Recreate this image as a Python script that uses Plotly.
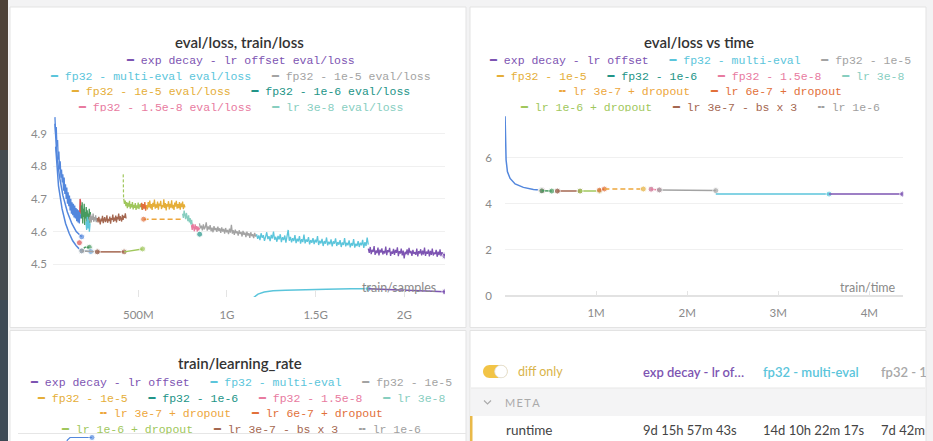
import numpy as np
import plotly.graph_objects as go

W, H = 933, 441


def PX(x):
    return x / W


def PY(y):
    return 1 - y / H


# ---------------- runs (legend order) ----------------
run_names = ["exp decay - lr offset", "fp32 - multi-eval", "fp32 - 1e-5", "fp32 - 1e-5",
             "fp32 - 1e-6", "fp32 - 1.5e-8", "lr 3e-8", "lr 3e-7 + dropout",
             "lr 6e-7 + dropout", "lr 1e-6 + dropout", "lr 3e-7 - bs x 3", "lr 1e-6"]
run_colors = ["#7D54B2", "#5BC5DB", "#A3A3A3", "#E5AE38", "#229487", "#E87B9F",
              "#87CEBF", "#EDA63C", "#E2703A", "#A0C75C", "#A46750", "#A0A0A0"]
run_dashed = [False, False, False, False, False, False, False, True, False, False, False, True]
PURPLE, CYAN, GRAY, YELLOW, TEAL, PINK, MINT, DYELLOW, ORANGE, LGREEN, BROWN, LGRAY = run_colors
BLUE, RED, GREEN = "#5387DD", "#DA4C4C", "#479A5F"

legend_rows_loss = [[0], [1, 2], [3, 4], [5, 6]]
legend_rows_runs = [[0, 1, 2], [3, 4, 5, 6], [7, 8], [9, 10, 11]]

# ---------------- panel 1: eval/loss, train/loss vs train/samples ----------------
samples_ticks = [5e8, 1e9, 1.5e9, 2e9]
samples_tick_labels = ["500M", "1G", "1.5G", "2G"]
loss_ticks = [4.5, 4.6, 4.7, 4.8, 4.9]

blue_train_span = [0.030e9, 0.175e9]
blue_train_loss = [4.95, 4.90, 4.92, 4.86, 4.88, 4.82, 4.845, 4.79, 4.815, 4.765,
                   4.79, 4.75, 4.775, 4.725, 4.765, 4.715, 4.745, 4.70, 4.735, 4.685,
                   4.72, 4.678, 4.71, 4.665, 4.70, 4.655, 4.69, 4.65, 4.685, 4.643,
                   4.68, 4.64, 4.672, 4.632, 4.668, 4.628, 4.665, 4.625, 4.66, 4.64]
red_train_span = [0.170e9, 0.178e9]
red_train_loss = [4.66, 4.70, 4.67, 4.69, 4.655, 4.68]
green_train_span = [0.178e9, 0.232e9]
green_train_loss = [4.68, 4.64, 4.69, 4.625, 4.67, 4.645, 4.685, 4.62, 4.66, 4.64,
                    4.675, 4.63, 4.665, 4.615, 4.655, 4.64, 4.67, 4.625, 4.66, 4.635]
cyan_early_span = [0.205e9, 0.228e9]
cyan_early_loss = [4.63, 4.605, 4.645, 4.61, 4.635, 4.6, 4.625]
gray_early_span = [0.224e9, 0.270e9]
gray_early_loss = [4.645, 4.632, 4.652, 4.628, 4.647, 4.636, 4.655, 4.63, 4.644, 4.634,
                   4.65, 4.629, 4.642, 4.637]
brown_train_span = [0.269e9, 0.431e9]
brown_train_loss = [4.641, 4.628, 4.645, 4.633, 4.622, 4.640, 4.631, 4.648, 4.626, 4.637,
                    4.644, 4.629, 4.635, 4.650, 4.627, 4.639, 4.632, 4.646, 4.624, 4.641,
                    4.636, 4.652, 4.630, 4.643, 4.634, 4.649, 4.628, 4.645, 4.638, 4.655,
                    4.633, 4.647, 4.639, 4.631, 4.651, 4.636, 4.648, 4.642, 4.656, 4.640]
lgreen_spike_x = [0.415e9, 0.417e9]
lgreen_spike_loss = [4.775, 4.700]
lgreen_train_span = [0.418e9, 0.528e9]
lgreen_train_loss = [4.70, 4.685, 4.695, 4.678, 4.69, 4.672, 4.688, 4.676, 4.694, 4.67,
                     4.684, 4.674, 4.69, 4.668, 4.682, 4.673, 4.687, 4.666, 4.68, 4.671,
                     4.689, 4.669, 4.683, 4.675, 4.686, 4.667, 4.681, 4.674]
orange_train_span = [0.515e9, 0.550e9]
orange_train_loss = [4.675, 4.688, 4.666, 4.684, 4.67, 4.69, 4.664, 4.68, 4.672]
yellow_train_span = [0.547e9, 0.763e9]
yellow_train_loss = [4.682, 4.668, 4.69, 4.674, 4.695, 4.671, 4.684, 4.666, 4.688, 4.676,
                     4.698, 4.67, 4.683, 4.673, 4.692, 4.667, 4.686, 4.678, 4.694, 4.669,
                     4.681, 4.674, 4.699, 4.672, 4.687, 4.665, 4.684, 4.677, 4.693, 4.668,
                     4.685, 4.673, 4.696, 4.671, 4.682, 4.666, 4.689, 4.676, 4.694, 4.67,
                     4.684, 4.672, 4.69, 4.667, 4.686, 4.675, 4.692, 4.669, 4.683, 4.674]
mint_train_span = [0.750e9, 0.805e9]
mint_train_loss = [4.655, 4.642, 4.664, 4.648, 4.638, 4.657, 4.641, 4.632, 4.65, 4.628,
                   4.641, 4.622, 4.636, 4.618]
pink_train_span = [0.800e9, 0.845e9]
pink_train_loss = [4.62, 4.605, 4.624, 4.61, 4.601, 4.622, 4.607, 4.617, 4.6, 4.615,
                   4.604, 4.612]
gray_train_span = [0.845e9, 1.167e9]
gray_train_loss = [4.625, 4.61, 4.618, 4.604, 4.622, 4.607, 4.614, 4.628, 4.603, 4.616,
                   4.606, 4.62, 4.601, 4.612, 4.598, 4.617, 4.604, 4.611, 4.599, 4.615,
                   4.602, 4.61, 4.596, 4.613, 4.6, 4.608, 4.594, 4.611, 4.598, 4.605,
                   4.592, 4.609, 4.597, 4.621, 4.594, 4.604, 4.59, 4.606, 4.595, 4.601,
                   4.588, 4.604, 4.593, 4.599, 4.585, 4.602, 4.59, 4.597, 4.583, 4.6,
                   4.588, 4.595, 4.581, 4.598, 4.586, 4.592, 4.58, 4.596, 4.585, 4.59]
cyan_train_span = [1.167e9, 1.797e9]
cyan_train_loss = [4.592, 4.578, 4.588, 4.574, 4.595, 4.581, 4.589, 4.572, 4.584, 4.598,
                   4.577, 4.586, 4.571, 4.59, 4.579, 4.6, 4.575, 4.584, 4.569, 4.587,
                   4.576, 4.592, 4.568, 4.583, 4.574, 4.588, 4.566, 4.581, 4.605, 4.572,
                   4.584, 4.567, 4.58, 4.571, 4.589, 4.565, 4.578, 4.57, 4.586, 4.563,
                   4.577, 4.568, 4.591, 4.564, 4.576, 4.569, 4.583, 4.561, 4.574, 4.566,
                   4.58, 4.562, 4.575, 4.567, 4.586, 4.559, 4.572, 4.564, 4.578, 4.556,
                   4.571, 4.563, 4.582, 4.558, 4.569, 4.561, 4.576, 4.555, 4.57, 4.563,
                   4.579, 4.556, 4.568, 4.56, 4.574, 4.553, 4.567, 4.559, 4.58, 4.555,
                   4.566, 4.558, 4.573, 4.552, 4.565, 4.557, 4.577, 4.551, 4.563, 4.556,
                   4.571, 4.553, 4.566, 4.558, 4.575, 4.55, 4.568, 4.556, 4.582, 4.56]
purple_train_span = [1.797e9, 2.229e9]
purple_train_loss = [4.548, 4.535, 4.553, 4.531, 4.544, 4.538, 4.556, 4.529, 4.542, 4.534,
                     4.551, 4.527, 4.545, 4.536, 4.549, 4.53, 4.541, 4.533, 4.554, 4.528,
                     4.543, 4.537, 4.55, 4.526, 4.539, 4.532, 4.547, 4.529, 4.544, 4.535,
                     4.552, 4.525, 4.54, 4.533, 4.548, 4.527, 4.542, 4.518, 4.538, 4.531,
                     4.546, 4.528, 4.55, 4.534, 4.541, 4.526, 4.544, 4.532, 4.537, 4.529,
                     4.548, 4.524, 4.54, 4.533, 4.546, 4.527, 4.542, 4.53, 4.551, 4.526,
                     4.539, 4.532, 4.545, 4.524, 4.541, 4.529, 4.548, 4.527, 4.536, 4.531,
                     4.544, 4.523, 4.539, 4.528, 4.546, 4.525, 4.537, 4.53, 4.533, 4.525]

# eval/loss points (train/samples, loss)
blue_eval_a_x = [0.030e9, 0.040e9, 0.055e9, 0.075e9, 0.100e9, 0.125e9, 0.150e9, 0.170e9, 0.181e9]
blue_eval_a_y = [4.93, 4.84, 4.77, 4.71, 4.66, 4.625, 4.60, 4.588, 4.584]
blue_eval_b_x = [0.034e9, 0.050e9, 0.070e9, 0.090e9, 0.110e9, 0.130e9, 0.150e9, 0.165e9, 0.181e9]
blue_eval_b_y = [4.86, 4.74, 4.67, 4.625, 4.595, 4.572, 4.557, 4.548, 4.542]
red_eval_x = [0.168e9]
red_eval_y = [4.566]
green_eval_x = [0.181e9, 0.200e9, 0.224e9]
green_eval_y = [4.543, 4.552, 4.552]
cyan_eval_early_x = [0.181e9, 0.232e9]
cyan_eval_early_y = [4.541, 4.539]
gray_eval_x = [0.181e9, 0.269e9]
gray_eval_y = [4.541, 4.538]
brown_eval_x = [0.269e9, 0.420e9]
brown_eval_y = [4.538, 4.538]
lgreen_eval_x = [0.420e9, 0.524e9]
lgreen_eval_y = [4.538, 4.547]
orange_eval_x = [0.530e9]
orange_eval_y = [4.638]
dropout_eval_x = [0.530e9, 0.745e9]
dropout_eval_y = [4.638, 4.638]
teal_eval_x = [0.846e9]
teal_eval_y = [4.592]
cyan_eval_x = [1.150e9, 1.175e9, 1.210e9, 1.260e9, 1.330e9, 1.430e9, 1.560e9, 1.700e9, 1.797e9]
cyan_eval_y = [4.398, 4.409, 4.415, 4.419, 4.421, 4.423, 4.424, 4.425, 4.425]
purple_eval_x = [1.797e9, 2.229e9]
purple_eval_y = [4.425, 4.416]

# ---------------- panel 2: eval/loss vs train/time ----------------
time_ticks = [1e6, 2e6, 3e6, 4e6]
time_tick_labels = ["1M", "2M", "3M", "4M"]
loss2_ticks = [0, 2, 4, 6]
blue_time = [0.001e6, 0.008e6, 0.012e6, 0.027e6, 0.056e6, 0.111e6, 0.202e6, 0.312e6, 0.404e6]
blue_time_loss = [7.80, 6.63, 5.90, 5.39, 5.10, 4.86, 4.71, 4.62, 4.58]
cluster_time = [0.395e6, 0.404e6, 0.412e6]
cluster_loss = [4.56, 4.57, 4.56]
green_time, green_time_loss = [0.404e6, 0.513e6], [4.56, 4.55]
gray_pt_time, gray_pt_loss = [0.575e6], [4.55]
brown_time, brown_time_loss = [0.575e6, 0.824e6], [4.55, 4.55]
lgreen_time, lgreen_time_loss = [0.824e6, 1.037e6], [4.55, 4.55]
orange_time, orange_time_loss = [1.037e6, 1.091e6], [4.59, 4.64]
dropout_time, dropout_time_loss = [1.091e6, 1.519e6], [4.64, 4.64]
yellow_time, yellow_time_loss = [1.519e6], [4.64]
mint_time, mint_time_loss = [1.604e6], [4.64]
pink_time, pink_time_loss = [1.604e6, 1.695e6], [4.63, 4.60]
gray_time, gray_time_loss = [1.695e6, 2.314e6], [4.60, 4.57]
cyan_time, cyan_time_loss = [2.314e6, 3.558e6], [4.42, 4.42]
purple_time, purple_time_loss = [3.558e6, 4.366e6], [4.42, 4.42]

# ---------------- panel 3: train/learning_rate ----------------
lr_x = [0.094e9, 0.100e9, 0.115e9, 0.239e9]
lr_y = [2.9e-6, 3.6e-6, 4.15e-6, 4.15e-6]

# ---------------- panel 4: run comparer ----------------
table_columns = ["exp decay - lr of…", "fp32 - multi-eval", "fp32 - 1e-5"]
table_column_colors = [PURPLE, CYAN, "#A8A8A8"]
runtime_values = ["9d 15h 57m 43s", "14d 10h 22m 17s", "7d 42m 51s"]

# ======================================================================
SANS = "Lato, 'Open Sans', sans-serif"
MONO = "'Liberation Mono', 'DejaVu Sans Mono', monospace"
TICK_FONT = dict(family=SANS, size=11.5, color="#8a8a8a")

fig = go.Figure()


def add_train(span, vals, color, ax="x", ay="y"):
    xs = np.linspace(span[0], span[1], len(vals))
    fig.add_trace(go.Scatter(x=xs, y=vals, mode="lines", xaxis=ax, yaxis=ay,
                             line=dict(color=color, width=1.3), hoverinfo="skip",
                             showlegend=False))


def add_eval(xs, ys, color, ax="x", ay="y", dash=None, markers="all", width=1.5):
    n = len(xs)
    if markers == "all":
        sizes = [6] * n
    elif markers == "last":
        sizes = [0] * (n - 1) + [6]
    else:
        sizes = [0] * n
    fig.add_trace(go.Scatter(x=xs, y=ys, mode="lines+markers", xaxis=ax, yaxis=ay,
                             line=dict(color=color, width=width, dash=dash),
                             marker=dict(color=color, size=sizes),
                             hoverinfo="skip", showlegend=False))


# panel 1 traces
add_eval(blue_eval_a_x, blue_eval_a_y, BLUE, markers="last")
add_eval(blue_eval_b_x, blue_eval_b_y, BLUE, markers="none")
add_train(blue_train_span, blue_train_loss, BLUE)
add_train(red_train_span, red_train_loss, RED)
add_train(green_train_span, green_train_loss, GREEN)
add_train(cyan_early_span, cyan_early_loss, CYAN)
add_train(gray_early_span, gray_early_loss, GRAY)
add_train(brown_train_span, brown_train_loss, BROWN)
fig.add_trace(go.Scatter(x=lgreen_spike_x, y=lgreen_spike_loss, mode="lines",
                         line=dict(color=LGREEN, width=1.2, dash="3px,2px"),
                         hoverinfo="skip", showlegend=False))
add_train(lgreen_train_span, lgreen_train_loss, LGREEN)
add_train(orange_train_span, orange_train_loss, ORANGE)
add_train(yellow_train_span, yellow_train_loss, YELLOW)
add_train(mint_train_span, mint_train_loss, MINT)
add_train(pink_train_span, pink_train_loss, PINK)
add_train(gray_train_span, gray_train_loss, GRAY)
add_train(cyan_train_span, cyan_train_loss, CYAN)
add_train(purple_train_span, purple_train_loss, PURPLE)
add_eval([purple_train_span[1]], [purple_train_loss[-1]], PURPLE)
add_eval(red_eval_x, red_eval_y, RED)
add_eval(green_eval_x, green_eval_y, GREEN, markers="last")
add_eval(cyan_eval_early_x, cyan_eval_early_y, "#6FA8DC")
add_eval(gray_eval_x, gray_eval_y, GRAY)
add_eval(brown_eval_x, brown_eval_y, BROWN)
add_eval(lgreen_eval_x, lgreen_eval_y, LGREEN, markers="last")
add_eval(dropout_eval_x, dropout_eval_y, DYELLOW, dash="5px,3px", markers="none")
add_eval(orange_eval_x, orange_eval_y, ORANGE)
add_eval(teal_eval_x, teal_eval_y, TEAL)
add_eval(cyan_eval_x, cyan_eval_y, CYAN, markers="last")
add_eval(purple_eval_x, purple_eval_y, PURPLE, markers="last")

# panel 2 traces
add_eval(blue_time, blue_time_loss, BLUE, "x2", "y2", markers="last")
add_eval(cluster_time, cluster_loss, PINK, "x2", "y2", width=0)
add_eval(green_time, green_time_loss, GREEN, "x2", "y2")
add_eval(gray_pt_time, gray_pt_loss, GRAY, "x2", "y2")
add_eval(brown_time, brown_time_loss, BROWN, "x2", "y2")
add_eval(lgreen_time, lgreen_time_loss, LGREEN, "x2", "y2")
add_eval(orange_time, orange_time_loss, ORANGE, "x2", "y2")
add_eval(dropout_time, dropout_time_loss, DYELLOW, "x2", "y2", dash="5px,3px", markers="none")
add_eval(yellow_time, yellow_time_loss, YELLOW, "x2", "y2")
add_eval(mint_time, mint_time_loss, MINT, "x2", "y2")
add_eval(pink_time, pink_time_loss, PINK, "x2", "y2")
add_eval(gray_time, gray_time_loss, GRAY, "x2", "y2")
add_eval(cyan_time, cyan_time_loss, CYAN, "x2", "y2", markers="last")
add_eval(purple_time, purple_time_loss, PURPLE, "x2", "y2", markers="last")

# panel 3 trace
add_eval(lr_x, lr_y, BLUE, "x3", "y3", markers="last", width=1.2)

# ---------------- axes ----------------
x1_range = [(53 - 49.63) / 177.33 * 1e9, (445 - 49.63) / 177.33 * 1e9]
fig.update_layout(
    xaxis=dict(domain=[PX(53), PX(445)], range=x1_range, anchor="y", automargin=False,
               tickvals=samples_ticks, ticktext=samples_tick_labels,
               showgrid=False, zeroline=False, showline=False,
               ticks="inside", ticklen=7, tickcolor="#e4e4e4", tickwidth=1,
               ticklabelstandoff=9, tickfont=TICK_FONT, fixedrange=True),
    yaxis=dict(domain=[PY(297), PY(113)], range=[4.40, 4.9627], anchor="x", automargin=False,
               tickvals=loss_ticks, ticktext=[f"{v:.1f}" for v in loss_ticks],
               showgrid=True, gridcolor="#f0f0f0", gridwidth=1, zeroline=False,
               showline=False, ticks="", ticklabelstandoff=5, tickfont=TICK_FONT,
               fixedrange=True),
    xaxis2=dict(domain=[PX(505), PX(903.3)], range=[0, 4.373e6], anchor="y2", automargin=False,
                tickvals=time_ticks, ticktext=time_tick_labels,
                showgrid=False, zeroline=False, showline=False,
                ticks="inside", ticklen=5, tickcolor="#e4e4e4",
                ticklabelstandoff=9, tickfont=TICK_FONT, fixedrange=True),
    yaxis2=dict(domain=[PY(295.7), PY(115)], range=[0, 7.857], anchor="x2", automargin=False,
                tickvals=loss2_ticks, showgrid=True, gridcolor="#f0f0f0",
                zeroline=True, zerolinecolor="#e2e2e2", zerolinewidth=1.5,
                showline=False, ticks="", ticklabelstandoff=12, tickfont=TICK_FONT,
                fixedrange=True),
    xaxis3=dict(domain=[PX(53), PX(445)], range=x1_range, anchor="y3", visible=False,
                automargin=False, fixedrange=True),
    yaxis3=dict(domain=[0, PY(433.5)], range=[3.4e-6, 5e-6], anchor="x3", visible=False,
                automargin=False, fixedrange=True),
)

# ---------------- panels / decorations ----------------
shapes = []


def rect(x0, y0, x1, y1, fill, line=None, layer="below", lw=1):
    shapes.append(dict(type="rect", xref="paper", yref="paper",
                       x0=PX(x0), x1=PX(x1), y0=PY(y1), y1=PY(y0),
                       fillcolor=fill, line=dict(color=line or fill, width=lw if line else 0),
                       layer=layer))


# dark window edge on the left
rect(0, 0, 8, 150, "#4d4238")
rect(0, 150, 8, 300, "#454a50")
rect(0, 300, 8, 441, "#3d4954")
# panels
rect(10, 7, 466, 327.5, "white", "#e3e3e3")
rect(470, 7, 926, 327.5, "white", "#e3e3e3")
rect(10, 330.5, 466, 445, "white", "#e3e3e3")
rect(470, 330.5, 926, 445, "white", "#e3e3e3")
# legend container bottom line in panel 3
shapes.append(dict(type="line", xref="paper", yref="paper", x0=PX(18), x1=PX(466),
                   y0=PY(433.5), y1=PY(433.5), line=dict(color="#e6e6e6", width=1),
                   layer="above"))
# run comparer: META band, selected-row bar
rect(471, 388, 925, 416, "#f4f4f5")
shapes.append(dict(type="line", xref="paper", yref="paper", x0=PX(471), x1=PX(925),
                   y0=PY(388), y1=PY(388), line=dict(color="#e7e7e7", width=1)))
rect(470, 416, 472.5, 441, "#E9B949")

# toggle pill
tx0, tx1, ty0, ty1 = 483, 507.5, 365, 378
r = (ty1 - ty0) / 2
k = 0.55 * r
pill = (f"M {PX(tx0 + r)},{PY(ty0)} L {PX(tx1 - r)},{PY(ty0)} "
        f"C {PX(tx1 - r + k)},{PY(ty0)} {PX(tx1)},{PY(ty0 + r - k)} {PX(tx1)},{PY(ty0 + r)} "
        f"C {PX(tx1)},{PY(ty0 + r + k)} {PX(tx1 - r + k)},{PY(ty1)} {PX(tx1 - r)},{PY(ty1)} "
        f"L {PX(tx0 + r)},{PY(ty1)} "
        f"C {PX(tx0 + r - k)},{PY(ty1)} {PX(tx0)},{PY(ty0 + r + k)} {PX(tx0)},{PY(ty0 + r)} "
        f"C {PX(tx0)},{PY(ty0 + r - k)} {PX(tx0 + r - k)},{PY(ty0)} {PX(tx0 + r)},{PY(ty0)} Z")
shapes.append(dict(type="path", xref="paper", yref="paper", path=pill,
                   fillcolor="#F2C446", line=dict(width=0), layer="above"))
cx, cy, cr = 501, 371.5, 6.3
shapes.append(dict(type="circle", xref="paper", yref="paper",
                   x0=PX(cx - cr), x1=PX(cx + cr), y0=PY(cy + cr), y1=PY(cy - cr),
                   fillcolor="white", line=dict(color="#dedede", width=0.8), layer="above"))
# chevron
shapes.append(dict(type="path", xref="paper", yref="paper",
                   path=f"M {PX(484)},{PY(400.5)} L {PX(487.5)},{PY(404)} L {PX(491)},{PY(400.5)}",
                   line=dict(color="#aaaaaa", width=1.1), layer="above"))

annotations = []


def text(x, y, s, size, color, family=SANS, xanchor="center", weight=None, **kw):
    f = dict(family=family, size=size, color=color)
    if weight:
        f["weight"] = weight
    annotations.append(dict(xref="paper", yref="paper", x=PX(x), y=PY(y), text=s,
                            showarrow=False, xanchor=xanchor, yanchor=kw.pop("yanchor", "middle"),
                            font=f, **kw))


NB = "\u00a0"


def legend_row(idx, suffix=""):
    parts = []
    for i in idx:
        mark = "╍" if run_dashed[i] else "━"
        parts.append(f'<span style="color:{run_colors[i]}">{mark}{NB}{run_names[i]}{suffix}</span>')
    return (NB * 3).join(parts)


row_y_top = [61.0, 76.5, 92.0, 107.5]
row_y_bottom = [382.8, 398.3, 413.8, 429.3]

# titles
text(240, 42, "eval/loss, train/loss", 15, "#333333", weight=600)
text(699, 42, "eval/loss vs time", 15, "#333333", weight=600)
text(240, 363, "train/learning_rate", 15, "#333333", weight=600)


def legend_block(cx, rows, ys, suffix, clip_bottom):
    for j, (row, y) in enumerate(zip(rows, ys)):
        s = legend_row(row, suffix)
        if j < len(rows) - 1:
            text(cx, y, s, 11.5, "#666", family=MONO)
        else:
            top = y - 7.5
            text(cx, top, s, 11.5, "#666", family=MONO, yanchor="top",
                 height=clip_bottom - top, valign="top", borderpad=0)


legend_block(240.5, legend_rows_loss, row_y_top, " eval/loss", 110.5)
legend_block(700, legend_rows_runs, row_y_top, "", 110.5)
legend_block(241, legend_rows_runs, row_y_bottom, "", 433.0)

# axis titles
text(438, 287, "train/samples", 12.5, "#8a8a8a", xanchor="right")
text(898, 287, "train/time", 12.5, "#8a8a8a", xanchor="right")

# run comparer texts
text(516, 371.5, "diff only", 12.5, "#D9B44A", xanchor="left")
col_x = [641, 761, 880]
for x, name, c in zip(col_x, table_columns, table_column_colors):
    if x == col_x[-1]:
        text(x, 371.5, name, 13, c, xanchor="left", weight=600, width=925 - x, align="left",
             borderpad=0)
    else:
        text(x, 371.5, name, 13, c, xanchor="left", weight=600)
text(503, 402, "M" + "\u2009E\u2009T\u2009A", 11, "#aaaaaa", xanchor="left")
text(504, 430, "runtime", 13.5, "#444444", xanchor="left")
for x, v in zip(col_x, runtime_values):
    if x == col_x[-1]:
        text(x, 430, v, 13, "#444444", xanchor="left", width=925 - x, align="left", borderpad=0)
    else:
        text(x, 430, v, 13, "#444444", xanchor="left")

fig.update_layout(
    width=W, height=H, margin=dict(l=0, r=0, t=0, b=0, pad=0, autoexpand=False),
    paper_bgcolor="#f3f3f4", plot_bgcolor="rgba(0,0,0,0)",
    showlegend=False, shapes=shapes, annotations=annotations,
    font=dict(family=SANS),
)

page_fix = ("document.body.style.margin='0px';"
            "document.body.style.overflow='hidden';")
fig.write_html("out.html", config={"displayModeBar": False}, post_script=page_fix)
